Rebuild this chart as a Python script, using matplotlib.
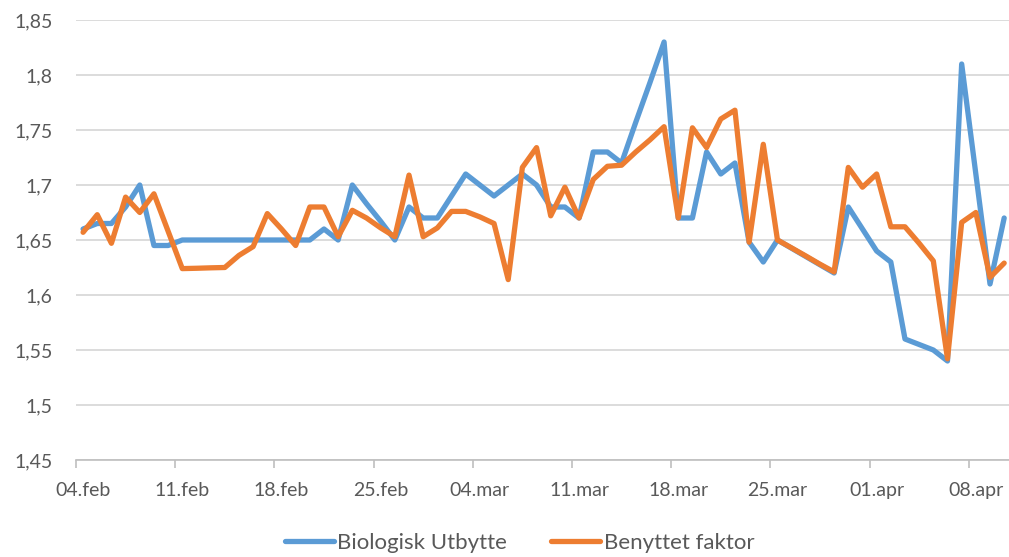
import pandas as pd
import matplotlib.pyplot as plt

plt.rcParams['font.family'] = ['Lato', 'DejaVu Sans']

# daglige verdier, 04.feb - 10.apr
dates = pd.date_range('2019-02-04', '2019-04-10', freq='D')

bio_utbytte = [
    1.66, 1.665, 1.665, 1.68, 1.70, 1.645, 1.645, 1.65, 1.65, 1.65,
    1.65, 1.65, 1.65, 1.65, 1.65, 1.65, 1.65, 1.66, 1.65, 1.70,
    1.683, 1.667, 1.65, 1.68, 1.67, 1.67, 1.69, 1.71, 1.70, 1.69,
    1.70, 1.71, 1.70, 1.68, 1.68, 1.67, 1.73, 1.73, 1.72, 1.757,
    1.793, 1.83, 1.67, 1.67, 1.73, 1.71, 1.72, 1.648, 1.63, 1.65,
    1.6425, 1.635, 1.6275, 1.62, 1.68, 1.66, 1.64, 1.63, 1.56, 1.555,
    1.55, 1.54, 1.81, 1.71, 1.61, 1.67,
]

benyttet_faktor = [
    1.657, 1.673, 1.647, 1.689, 1.675, 1.692, 1.658, 1.624, 1.6243, 1.6247,
    1.625, 1.636, 1.644, 1.674, 1.66, 1.645, 1.68, 1.68, 1.653, 1.677,
    1.670, 1.661, 1.653, 1.709, 1.653, 1.661, 1.676, 1.676, 1.671, 1.665,
    1.614, 1.716, 1.734, 1.672, 1.698, 1.67, 1.705, 1.717, 1.718, 1.730,
    1.741, 1.753, 1.67, 1.752, 1.734, 1.76, 1.768, 1.648, 1.737, 1.65,
    1.6428, 1.6355, 1.628, 1.621, 1.716, 1.698, 1.71, 1.662, 1.662, 1.647,
    1.631, 1.542, 1.666, 1.675, 1.616, 1.629,
]

tick_dates = pd.date_range('2019-02-04', '2019-04-08', freq='7D')
tick_labels = ['04.feb', '11.feb', '18.feb', '25.feb', '04.mar',
               '11.mar', '18.mar', '25.mar', '01.apr', '08.apr']
y_ticks = [1.45, 1.5, 1.55, 1.6, 1.65, 1.7, 1.75, 1.8, 1.85]
y_labels = ['1,45', '1,5', '1,55', '1,6', '1,65', '1,7', '1,75', '1,8', '1,85']

fig = plt.figure(figsize=(10.09, 5.57), dpi=100)
ax = fig.add_axes([76 / 1009, 97 / 557, 1 - 76 / 1009, 440 / 557])

# punktene ligger midt i hver dag
half_day = pd.Timedelta(hours=12)
x = dates + half_day
ax.plot(x, bio_utbytte, color='#5B9BD5', lw=3.8, label='Biologisk Utbytte',
        solid_joinstyle='round', solid_capstyle='round')
ax.plot(x, benyttet_faktor, color='#ED7D31', lw=3.8, label='Benyttet faktor',
        solid_joinstyle='round', solid_capstyle='round')

ax.set_xlim(dates[0], dates[0] + pd.Timedelta(days=65.84))
ax.set_ylim(1.45, 1.85)
ax.set_yticks(y_ticks)
ax.set_yticklabels(y_labels)

# tick-streker ved dagens start, etiketter midt i dagen
ax.set_xticks(tick_dates)
ax.set_xticklabels([])
ax.set_xticks(tick_dates + half_day, minor=True)
ax.set_xticklabels(tick_labels, minor=True)

ax.grid(axis='y', color='#D9D9D9', lw=1.3)
ax.set_axisbelow(True)
for s in ['top', 'right', 'left']:
    ax.spines[s].set_visible(False)
ax.spines['bottom'].set_color('#BFBFBF')
ax.spines['bottom'].set_linewidth(1.2)

ax.tick_params(axis='y', length=0, pad=17, labelsize=14, labelcolor='#595959')
ax.tick_params(axis='x', which='major', length=6, width=1.2, color='#BFBFBF',
               direction='out')
ax.tick_params(axis='x', which='minor', length=0, pad=16, labelsize=14,
               labelcolor='#595959')

leg = fig.legend(loc='lower center', bbox_to_anchor=(0.515, -0.028), ncol=2,
                 frameon=False, fontsize=16, handlelength=2.2,
                 handletextpad=0.15, columnspacing=2.0)
for t in leg.get_texts():
    t.set_color('#595959')

fig.savefig('out.png', dpi=100)
